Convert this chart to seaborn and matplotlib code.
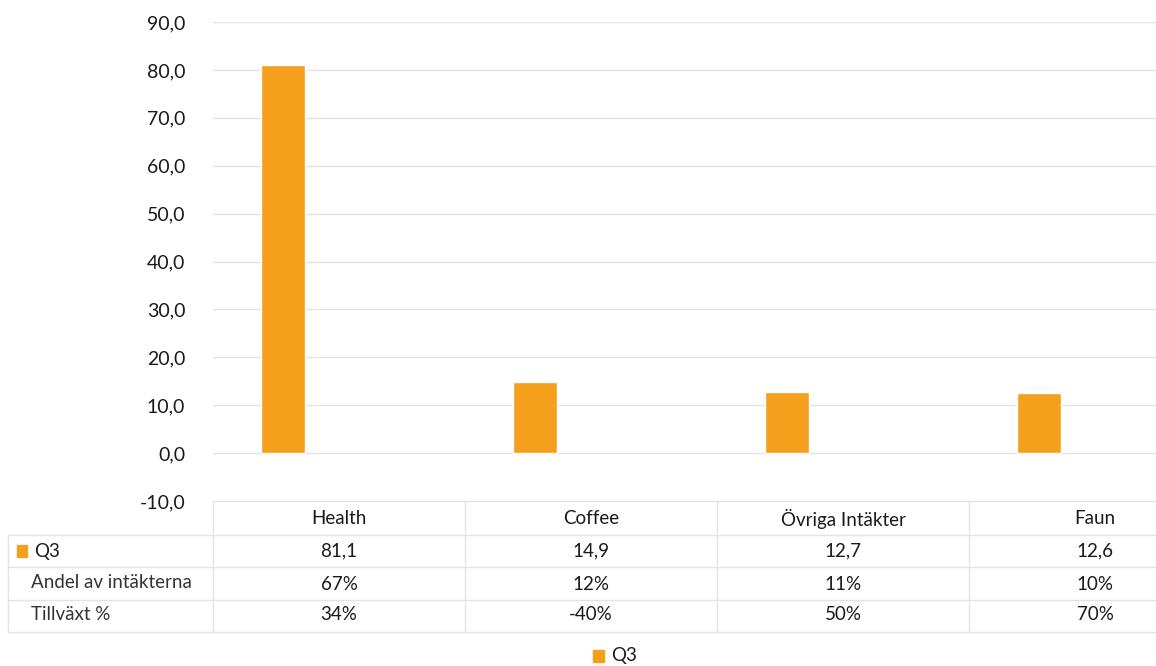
import numpy as np
import pandas as pd
import seaborn as sns
import matplotlib
matplotlib.use("Agg")
import matplotlib.pyplot as plt
from matplotlib.lines import Line2D
from matplotlib.patches import Rectangle
import matplotlib.transforms as mtrans

# data
categories = ["Health", "Coffee", "Övriga Intäkter", "Faun"]
q3_values = [81.1, 14.9, 12.7, 12.6]
andel = ["67%", "12%", "11%", "10%"]
tillvaxt = ["34%", "-40%", "50%", "70%"]
yticks = [-10, 0, 10, 20, 30, 40, 50, 60, 70, 80, 90]

sns.set_theme(style="white")
plt.rcParams['font.family'] = ['Lato', 'DejaVu Sans']

bar_color = "#F5A01C"
grid_color = "#E3E3E3"
text_color = "#1a1a1a"

df = pd.DataFrame({"cat": categories, "Q3": q3_values})

W, H = 1156, 666
fig = plt.figure(figsize=(W / 100, H / 100), dpi=100)
ax = fig.add_axes([213 / W, 1 - 501 / H, 1 - 213 / W, (501 - 22) / H])

sns.barplot(data=df, x="cat", y="Q3", order=categories, color=bar_color,
            width=0.175, saturation=1, ax=ax, zorder=3)

# category column is 252 px wide, bar sits left of column centre
off = (283 - 213) / 252
ax.set_xlim(-off, (W - 283) / 252)
ax.set_ylim(-10, 90)
ax.set_yticks(yticks)
ax.set_yticklabels([f"{v:.1f}".replace(".", ",") for v in yticks],
                   fontsize=14, color=text_color)
ax.tick_params(axis="y", length=0, pad=20)
ax.set_xticks([])
ax.set_xlabel("")
ax.set_ylabel("")
for s in ax.spines.values():
    s.set_visible(False)
for v in yticks[1:]:
    ax.axhline(v, color=grid_color, lw=1, zorder=1)

# data table below the axes (figure pixel coords)
def fy(py):
    return 1 - py / H

def fx(px):
    return px / W

line_kw = dict(color=grid_color, lw=1, transform=fig.transFigure)
fig.add_artist(Line2D([fx(213), 1], [fy(501), fy(501)], **line_kw))
for py in [535, 567, 600, 632]:
    fig.add_artist(Line2D([fx(8), 1], [fy(py), fy(py)], **line_kw))
fig.add_artist(Line2D([fx(8), fx(8)], [fy(535), fy(632)], **line_kw))
blend = mtrans.blended_transform_factory(ax.transData, fig.transFigure)
for i in range(len(categories)):
    xl = i - off
    fig.add_artist(Line2D([xl, xl], [fy(501), fy(632)], color=grid_color,
                          lw=1, transform=blend))

cell_fs = 13.5
for i, cat in enumerate(categories):
    xc = i - off + 0.5
    fig.text(xc, fy(519), cat, transform=blend, ha="center", va="center",
             fontsize=cell_fs, color=text_color)
    fig.text(xc, fy(551), f"{q3_values[i]:.1f}".replace(".", ","), transform=blend,
             ha="center", va="center", fontsize=cell_fs, color=text_color)
    fig.text(xc, fy(584), andel[i], transform=blend, ha="center", va="center",
             fontsize=cell_fs, color=text_color)
    fig.text(xc, fy(615), tillvaxt[i], transform=blend, ha="center", va="center",
             fontsize=cell_fs, color=text_color)

fig.add_artist(Rectangle((fx(17), fy(557)), 10 / W, 12 / H, color=bar_color,
                         transform=fig.transFigure))
fig.text(fx(34), fy(551), "Q3", ha="left", va="center", fontsize=cell_fs, color=text_color)
fig.text(fx(31), fy(583), "Andel av intäkterna", ha="left", va="center",
         fontsize=cell_fs, color="#333333")
fig.text(fx(31), fy(614), "Tillväxt %", ha="left", va="center",
         fontsize=cell_fs, color="#333333")

# legend
fig.add_artist(Rectangle((fx(593), fy(662)), 11 / W, 12 / H, color=bar_color,
                         transform=fig.transFigure))
fig.text(fx(611), fy(656), "Q3", ha="left", va="center", fontsize=cell_fs, color=text_color)

fig.savefig("out.png", dpi=100, facecolor="white")
